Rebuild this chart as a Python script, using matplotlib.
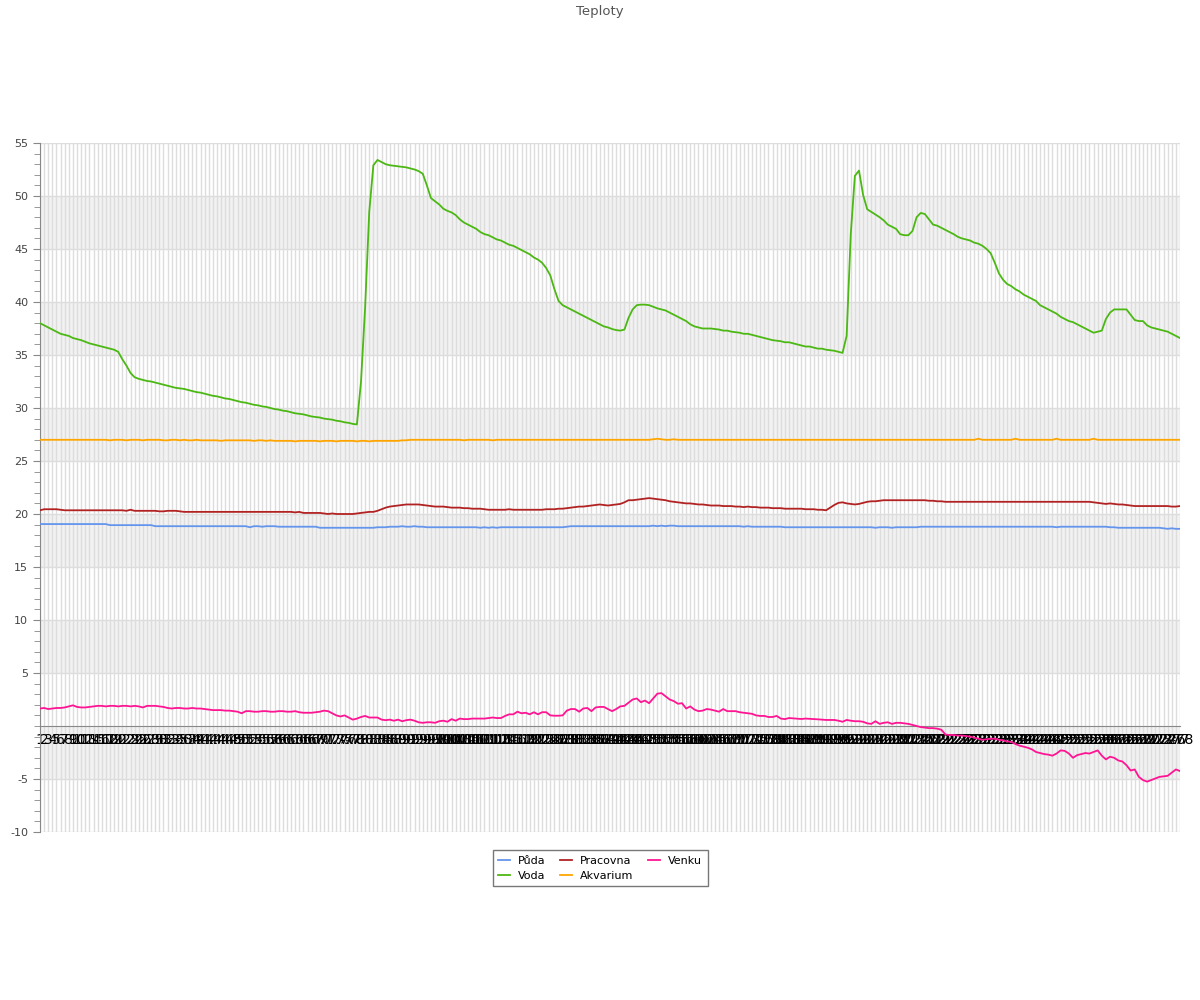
import matplotlib.pyplot as plt

plt.rcParams['axes.unicode_minus'] = False

# hodnoty (278 mereni)
puda = [
    19.05, 19.05, 19.05, 19.05, 19.05, 19.05, 19.05, 19.05, 19.05, 19.05,
    19.05, 19.05, 19.05, 19.05, 19.05, 19.05, 19.05, 18.95, 18.95, 18.95,
    18.95, 18.95, 18.95, 18.95, 18.95, 18.95, 18.95, 18.95, 18.85, 18.85,
    18.85, 18.85, 18.85, 18.85, 18.85, 18.85, 18.85, 18.85, 18.85, 18.85,
    18.85, 18.85, 18.85, 18.85, 18.85, 18.85, 18.85, 18.85, 18.85, 18.85,
    18.85, 18.75, 18.85, 18.85, 18.8, 18.85, 18.85, 18.85, 18.8, 18.8,
    18.8, 18.8, 18.8, 18.8, 18.8, 18.8, 18.8, 18.8, 18.7, 18.7,
    18.7, 18.7, 18.7, 18.7, 18.7, 18.7, 18.7, 18.7, 18.7, 18.7,
    18.7, 18.7, 18.75, 18.75, 18.75, 18.8, 18.8, 18.8, 18.85, 18.8,
    18.8, 18.85, 18.8, 18.8, 18.75, 18.75, 18.75, 18.75, 18.75, 18.75,
    18.75, 18.75, 18.75, 18.75, 18.75, 18.75, 18.75, 18.7, 18.75, 18.7,
    18.75, 18.7, 18.75, 18.75, 18.75, 18.75, 18.75, 18.75, 18.75, 18.75,
    18.75, 18.75, 18.75, 18.75, 18.75, 18.75, 18.75, 18.75, 18.8, 18.85,
    18.85, 18.85, 18.85, 18.85, 18.85, 18.85, 18.85, 18.85, 18.85, 18.85,
    18.85, 18.85, 18.85, 18.85, 18.85, 18.85, 18.85, 18.85, 18.85, 18.9,
    18.85, 18.9, 18.85, 18.9, 18.9, 18.85, 18.85, 18.85, 18.85, 18.85,
    18.85, 18.85, 18.85, 18.85, 18.85, 18.85, 18.85, 18.85, 18.85, 18.85,
    18.85, 18.8, 18.85, 18.8, 18.8, 18.8, 18.8, 18.8, 18.8, 18.8,
    18.8, 18.75, 18.75, 18.75, 18.75, 18.75, 18.75, 18.75, 18.75, 18.75,
    18.75, 18.75, 18.75, 18.75, 18.75, 18.75, 18.75, 18.75, 18.75, 18.75,
    18.75, 18.75, 18.75, 18.7, 18.75, 18.75, 18.75, 18.7, 18.75, 18.75,
    18.75, 18.75, 18.75, 18.75, 18.8, 18.8, 18.8, 18.8, 18.8, 18.8,
    18.8, 18.8, 18.8, 18.8, 18.8, 18.8, 18.8, 18.8, 18.8, 18.8,
    18.8, 18.8, 18.8, 18.8, 18.8, 18.8, 18.8, 18.8, 18.8, 18.8,
    18.8, 18.8, 18.8, 18.8, 18.8, 18.8, 18.8, 18.75, 18.8, 18.8,
    18.8, 18.8, 18.8, 18.8, 18.8, 18.8, 18.8, 18.8, 18.8, 18.8,
    18.75, 18.75, 18.7, 18.7, 18.7, 18.7, 18.7, 18.7, 18.7, 18.7,
    18.7, 18.7, 18.7, 18.65, 18.6, 18.65, 18.6, 18.6,
]

voda = [
    38.0, 37.8, 37.6, 37.4, 37.2, 37.0, 36.9, 36.8, 36.6, 36.5,
    36.4, 36.25, 36.1, 36.0, 35.9, 35.8, 35.7, 35.6, 35.5, 35.3,
    34.6, 34.0, 33.3, 32.9, 32.75, 32.65, 32.55, 32.5, 32.4, 32.3,
    32.2, 32.1, 32.0, 31.9, 31.85, 31.8, 31.7, 31.6, 31.5, 31.45,
    31.35, 31.25, 31.15, 31.1, 31.0, 30.9, 30.85, 30.75, 30.65, 30.55,
    30.5, 30.4, 30.3, 30.25, 30.15, 30.1, 30.0, 29.9, 29.85, 29.75,
    29.7, 29.6, 29.5, 29.45, 29.4, 29.3, 29.2, 29.15, 29.1, 29.0,
    28.95, 28.9, 28.8, 28.75, 28.65, 28.6, 28.5, 28.45, 32.5, 39.5,
    48.5, 52.9, 53.4, 53.2, 53.0, 52.9, 52.85, 52.8, 52.75, 52.7,
    52.6, 52.5, 52.35, 52.1, 51.0, 49.8, 49.5, 49.2, 48.8, 48.6,
    48.45, 48.2, 47.8, 47.5, 47.3, 47.1, 46.9, 46.6, 46.4, 46.3,
    46.1, 45.9, 45.8, 45.6, 45.4, 45.3, 45.1, 44.9, 44.7, 44.5,
    44.2, 44.0, 43.7, 43.2, 42.5, 41.2, 40.1, 39.7, 39.5, 39.3,
    39.1, 38.9, 38.7, 38.5, 38.3, 38.1, 37.9, 37.7, 37.6, 37.45,
    37.35, 37.3, 37.4, 38.5, 39.3, 39.7, 39.75, 39.75, 39.7, 39.55,
    39.4, 39.3, 39.2, 39.0, 38.8, 38.6, 38.4, 38.2, 37.9, 37.7,
    37.6, 37.5, 37.5, 37.5, 37.45, 37.4, 37.3, 37.3, 37.2, 37.15,
    37.1, 37.0, 37.0, 36.9, 36.8, 36.7, 36.6, 36.5, 36.4, 36.35,
    36.3, 36.2, 36.2, 36.1, 36.0, 35.9, 35.8, 35.8, 35.7, 35.6,
    35.6, 35.5, 35.45, 35.4, 35.3, 35.2, 36.8, 46.4, 51.9, 52.4,
    50.1, 48.75, 48.5, 48.25, 48.0, 47.7, 47.3, 47.1, 46.9, 46.4,
    46.3, 46.3, 46.7, 48.0, 48.4, 48.3, 47.8, 47.3, 47.2, 47.0,
    46.8, 46.6, 46.4, 46.15, 46.0, 45.9, 45.8, 45.6, 45.5, 45.3,
    45.0, 44.6, 43.7, 42.7, 42.1, 41.7, 41.5, 41.2, 41.0, 40.7,
    40.5, 40.3, 40.1, 39.7, 39.5, 39.3, 39.1, 38.9, 38.6, 38.4,
    38.2, 38.1, 37.9, 37.7, 37.5, 37.3, 37.1, 37.2, 37.3, 38.4,
    39.0, 39.3, 39.3, 39.3, 39.3, 38.8, 38.3, 38.2, 38.2, 37.8,
    37.6, 37.5, 37.4, 37.3, 37.2, 37.0, 36.8, 36.6,
]

pracovna = [
    20.35, 20.45, 20.45, 20.45, 20.45, 20.4, 20.35, 20.35, 20.35, 20.35,
    20.35, 20.35, 20.35, 20.35, 20.35, 20.35, 20.35, 20.35, 20.35, 20.35,
    20.35, 20.3, 20.4, 20.3, 20.3, 20.3, 20.3, 20.3, 20.3, 20.25,
    20.25, 20.3, 20.3, 20.3, 20.25, 20.2, 20.2, 20.2, 20.2, 20.2,
    20.2, 20.2, 20.2, 20.2, 20.2, 20.2, 20.2, 20.2, 20.2, 20.2,
    20.2, 20.2, 20.2, 20.2, 20.2, 20.2, 20.2, 20.2, 20.2, 20.2,
    20.2, 20.2, 20.15, 20.2, 20.1, 20.1, 20.1, 20.1, 20.1, 20.05,
    20.0, 20.05, 20.0, 20.0, 20.0, 20.0, 20.0, 20.05, 20.1, 20.15,
    20.2, 20.2, 20.3, 20.45, 20.6, 20.7, 20.75, 20.8, 20.85, 20.9,
    20.9, 20.9, 20.9, 20.85, 20.8, 20.75, 20.7, 20.7, 20.7, 20.65,
    20.6, 20.6, 20.6, 20.55, 20.55, 20.5, 20.5, 20.5, 20.45, 20.4,
    20.4, 20.4, 20.4, 20.4, 20.45, 20.4, 20.4, 20.4, 20.4, 20.4,
    20.4, 20.4, 20.4, 20.45, 20.45, 20.45, 20.5, 20.5, 20.55, 20.6,
    20.65, 20.7, 20.7, 20.75, 20.8, 20.85, 20.9, 20.85, 20.8, 20.85,
    20.9, 20.95, 21.1, 21.3, 21.3, 21.35, 21.4, 21.45, 21.5, 21.45,
    21.4, 21.35, 21.3, 21.2, 21.15, 21.1, 21.05, 21.0, 21.0, 20.95,
    20.9, 20.9, 20.85, 20.8, 20.8, 20.8, 20.75, 20.75, 20.75, 20.7,
    20.7, 20.65, 20.7, 20.65, 20.65, 20.6, 20.6, 20.6, 20.55, 20.55,
    20.55, 20.5, 20.5, 20.5, 20.5, 20.5, 20.45, 20.45, 20.45, 20.4,
    20.4, 20.35, 20.6, 20.85, 21.05, 21.1, 21.0, 20.95, 20.9, 20.95,
    21.05, 21.15, 21.2, 21.2, 21.25, 21.3, 21.3, 21.3, 21.3, 21.3,
    21.3, 21.3, 21.3, 21.3, 21.3, 21.3, 21.25, 21.25, 21.2, 21.2,
    21.15, 21.15, 21.15, 21.15, 21.15, 21.15, 21.15, 21.15, 21.15, 21.15,
    21.15, 21.15, 21.15, 21.15, 21.15, 21.15, 21.15, 21.15, 21.15, 21.15,
    21.15, 21.15, 21.15, 21.15, 21.15, 21.15, 21.15, 21.15, 21.15, 21.15,
    21.15, 21.15, 21.15, 21.15, 21.15, 21.15, 21.1, 21.05, 21.0, 20.95,
    21.0, 20.95, 20.9, 20.9, 20.85, 20.8, 20.75, 20.75, 20.75, 20.75,
    20.75, 20.75, 20.75, 20.75, 20.75, 20.7, 20.7, 20.75,
]

akvarium = [
    27.0, 27.0, 27.0, 27.0, 27.0, 27.0, 27.0, 27.0, 27.0, 27.0,
    27.0, 27.0, 27.0, 27.0, 27.0, 27.0, 27.0, 26.95, 27.0, 27.0,
    27.0, 26.95, 27.0, 27.0, 27.0, 26.95, 27.0, 27.0, 27.0, 27.0,
    26.95, 26.95, 27.0, 27.0, 26.95, 27.0, 26.95, 26.95, 27.0, 26.95,
    26.95, 26.95, 26.95, 26.95, 26.9, 26.95, 26.95, 26.95, 26.95, 26.95,
    26.95, 26.95, 26.9, 26.95, 26.95, 26.9, 26.95, 26.9, 26.9, 26.9,
    26.9, 26.9, 26.85, 26.9, 26.9, 26.9, 26.9, 26.9, 26.85, 26.9,
    26.9, 26.9, 26.85, 26.9, 26.9, 26.9, 26.9, 26.85, 26.9, 26.9,
    26.85, 26.9, 26.9, 26.9, 26.9, 26.9, 26.9, 26.9, 26.95, 26.95,
    27.0, 27.0, 27.0, 27.0, 27.0, 27.0, 27.0, 27.0, 27.0, 27.0,
    27.0, 27.0, 27.0, 26.95, 27.0, 27.0, 27.0, 27.0, 27.0, 27.0,
    26.95, 27.0, 27.0, 27.0, 27.0, 27.0, 27.0, 27.0, 27.0, 27.0,
    27.0, 27.0, 27.0, 27.0, 27.0, 27.0, 27.0, 27.0, 27.0, 27.0,
    27.0, 27.0, 27.0, 27.0, 27.0, 27.0, 27.0, 27.0, 27.0, 27.0,
    27.0, 27.0, 27.0, 27.0, 27.0, 27.0, 27.0, 27.0, 27.0, 27.05,
    27.1, 27.05, 27.0, 27.0, 27.05, 27.0, 27.0, 27.0, 27.0, 27.0,
    27.0, 27.0, 27.0, 27.0, 27.0, 27.0, 27.0, 27.0, 27.0, 27.0,
    27.0, 27.0, 27.0, 27.0, 27.0, 27.0, 27.0, 27.0, 27.0, 27.0,
    27.0, 27.0, 27.0, 27.0, 27.0, 27.0, 27.0, 27.0, 27.0, 27.0,
    27.0, 27.0, 27.0, 27.0, 27.0, 27.0, 27.0, 27.0, 27.0, 27.0,
    27.0, 27.0, 27.0, 27.0, 27.0, 27.0, 27.0, 27.0, 27.0, 27.0,
    27.0, 27.0, 27.0, 27.0, 27.0, 27.0, 27.0, 27.0, 27.0, 27.0,
    27.0, 27.0, 27.0, 27.0, 27.0, 27.0, 27.0, 27.0, 27.1, 27.0,
    27.0, 27.0, 27.0, 27.0, 27.0, 27.0, 27.0, 27.1, 27.0, 27.0,
    27.0, 27.0, 27.0, 27.0, 27.0, 27.0, 27.0, 27.1, 27.0, 27.0,
    27.0, 27.0, 27.0, 27.0, 27.0, 27.0, 27.1, 27.0, 27.0, 27.0,
    27.0, 27.0, 27.0, 27.0, 27.0, 27.0, 27.0, 27.0, 27.0, 27.0,
    27.0, 27.0, 27.0, 27.0, 27.0, 27.0, 27.0, 27.0,
]

venku = [
    1.65, 1.7, 1.6, 1.65, 1.7, 1.7, 1.75, 1.85, 1.95, 1.8,
    1.75, 1.75, 1.8, 1.85, 1.9, 1.9, 1.85, 1.9, 1.9, 1.85,
    1.9, 1.9, 1.85, 1.9, 1.85, 1.75, 1.9, 1.9, 1.9, 1.85,
    1.8, 1.7, 1.65, 1.7, 1.7, 1.65, 1.65, 1.7, 1.65, 1.65,
    1.6, 1.55, 1.5, 1.5, 1.5, 1.45, 1.45, 1.4, 1.35, 1.2,
    1.4, 1.4, 1.35, 1.35, 1.4, 1.4, 1.35, 1.35, 1.4, 1.4,
    1.35, 1.35, 1.4, 1.3, 1.25, 1.25, 1.25, 1.3, 1.35, 1.45,
    1.4, 1.2, 1.0, 0.9, 1.0, 0.8, 0.6, 0.7, 0.85, 0.95,
    0.8, 0.8, 0.8, 0.6, 0.55, 0.6, 0.5, 0.6, 0.45, 0.55,
    0.6, 0.5, 0.35, 0.3, 0.35, 0.35, 0.3, 0.45, 0.5, 0.4,
    0.65, 0.5, 0.7, 0.65, 0.65, 0.7, 0.7, 0.7, 0.7, 0.75,
    0.8, 0.75, 0.75, 0.95, 1.1, 1.1, 1.35, 1.2, 1.25, 1.1,
    1.3, 1.1, 1.3, 1.3, 1.0, 0.97, 0.97, 1.0, 1.45, 1.6,
    1.6, 1.35, 1.65, 1.7, 1.4, 1.75, 1.8, 1.8, 1.6, 1.4,
    1.6, 1.85, 1.9, 2.2, 2.5, 2.6, 2.25, 2.4, 2.15, 2.6,
    3.05, 3.1, 2.8, 2.5, 2.35, 2.1, 2.15, 1.65, 1.85, 1.55,
    1.4, 1.45, 1.6, 1.55, 1.45, 1.35, 1.6, 1.4, 1.4, 1.4,
    1.3, 1.25, 1.2, 1.15, 1.0, 0.95, 0.95, 0.85, 0.85, 0.95,
    0.7, 0.65, 0.75, 0.72, 0.7, 0.66, 0.7, 0.68, 0.65, 0.63,
    0.6, 0.57, 0.57, 0.57, 0.5, 0.4, 0.57, 0.5, 0.45, 0.45,
    0.4, 0.25, 0.2, 0.45, 0.2, 0.3, 0.35, 0.2, 0.3, 0.3,
    0.25, 0.2, 0.1, 0.0, -0.1, -0.15, -0.2, -0.2, -0.25, -0.35,
    -0.8, -0.85, -0.85, -0.9, -0.9, -0.95, -1.0, -1.1, -1.2, -1.3,
    -1.25, -1.2, -1.2, -1.3, -1.35, -1.45, -1.5, -1.7, -1.85, -1.95,
    -2.05, -2.2, -2.45, -2.55, -2.65, -2.7, -2.8, -2.6, -2.3, -2.35,
    -2.6, -3.0, -2.75, -2.65, -2.55, -2.6, -2.45, -2.3, -2.8, -3.15,
    -2.9, -3.0, -3.25, -3.35, -3.7, -4.2, -4.1, -4.8, -5.1, -5.25,
    -5.1, -4.95, -4.8, -4.75, -4.7, -4.4, -4.1, -4.25,
]

labels = [str(n) for n in range(1, len(voda) + 1)]
x = list(range(len(voda)))

series = [
    ("Půda", puda, "#6495ed"),
    ("Voda", voda, "#4cb814"),
    ("Pracovna", pracovna, "#b22222"),
    ("Akvarium", akvarium, "#ffa500"),
    ("Venku", venku, "#ff1493"),
]

fig = plt.figure(figsize=(12, 10), dpi=100)
ax = fig.add_axes([40 / 1200, 168 / 1000, 1140 / 1200, 689 / 1000])

# sede pruhy
for lo in [45, 35, 25, 15, 5, -5]:
    ax.axhspan(lo, lo + 5, color="#f2f2f2", zorder=0, lw=0)

for name, vals, col in series:
    ax.plot(x, vals, color=col, lw=1.3, label=name, zorder=3)

ax.set_xlim(0, len(x) - 1)
ax.set_ylim(-10, 55)

ax.set_xticks(x)
ax.set_xticklabels(labels, fontsize=8, color="#444444")
ax.tick_params(axis="x", length=0, pad=5)
ax.grid(axis="x", color="#dddddd", lw=1, zorder=1)

yt = [-10, -5, 5, 10, 15, 20, 25, 30, 35, 40, 45, 50, 55]
ax.set_yticks(yt)
ax.set_yticks(range(-10, 56), minor=True)
ax.tick_params(axis="y", which="major", length=5, color="#888888", labelsize=8, labelcolor="#444444")
ax.tick_params(axis="y", which="minor", length=4, color="#888888")
ax.grid(axis="y", color="#dddddd", lw=1, zorder=1)
ax.set_axisbelow(True)

ax.spines["bottom"].set_position(("data", 0))
ax.spines["bottom"].set_color("#888888")
ax.spines["left"].set_color("#888888")
ax.spines["top"].set_visible(False)
ax.spines["right"].set_visible(False)

fig.text(0.5, 0.988, "Teploty", ha="center", va="center", fontsize=9.5, color="#555555")

fig.legend(loc="upper center", bbox_to_anchor=(0.5, 0.15), ncol=3, fontsize=8,
           fancybox=False, edgecolor="#777777", framealpha=1, handlelength=1.1,
           handletextpad=0.7, columnspacing=1.3, borderpad=0.5, labelspacing=0.45,
           borderaxespad=0)

plt.savefig("out.png", dpi=100)
